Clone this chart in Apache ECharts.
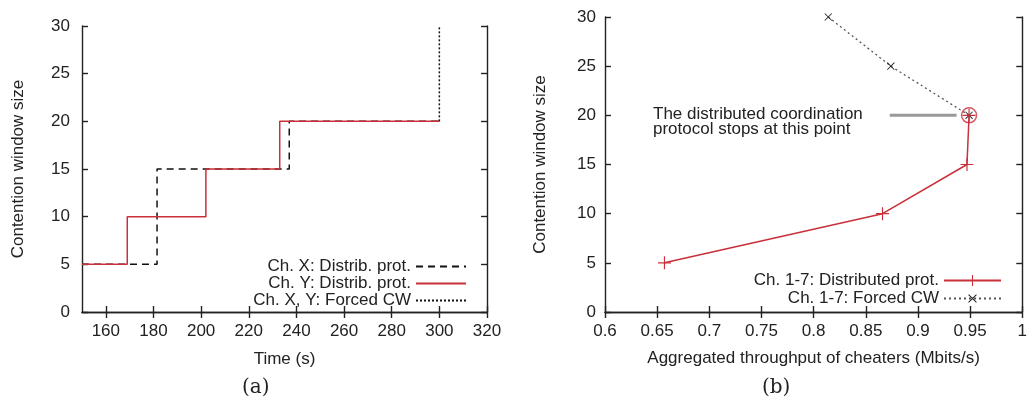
<!DOCTYPE html>
<html>
<head>
<meta charset="utf-8">
<script src="https://cdn.jsdelivr.net/npm/echarts@6/dist/echarts.min.js"></script>
<style>
  html, body { margin: 0; padding: 0; background: #fff; }
  #main { width: 1030px; height: 405px; }
</style>
</head>
<body>
<div id="main"></div>
<script>
// (a) contention window over time
const chXTime = [150, 181.5, 237, 300];
const chXCw = [5, 15, 20, 20];
const chYTime = [150, 169, 202, 233, 300];
const chYCw = [5, 10, 15, 20, 20];
const forcedTime = [300, 300];
const forcedCw = [20, 30];
const timeTicks = [160, 180, 200, 220, 240, 260, 280, 300, 320];

// (b) throughput vs contention window
const distThroughput = [0.657, 0.866, 0.947, 0.949];
const distCw = [5, 10, 15, 20];
const forcedThroughput = [0.949, 0.874, 0.814];
const forcedCwB = [20, 25, 30];
const stopPoint = [0.949, 20];
const pointerX = [0.873, 0.937];

const FONT = "'Liberation Sans', Arial, sans-serif";
const RED = '#c9303a';
const pair = (xs, ys) => xs.map((x, i) => [x, ys[i]]);

const plusPath = 'path://M-1,-0.09H1V0.09H-1Z M-0.09,-1H0.09V1H-0.09Z';

const labelStyle = {color: '#222', fontSize: 17, fontFamily: FONT};
const tickIn = {inside: true, length: 6, lineStyle: {color: '#222', width: 1.4}};
const axLine = {show: true, lineStyle: {color: '#222', width: 1.4}};

function xAxes(gridIndex, min, max, ticks, interval, name, nameGap) {
  const base = {
    type: 'value', gridIndex, min, max, splitLine: {show: false},
    axisLine: axLine
  };
  if (interval) base.interval = interval;
  const bottom = Object.assign({}, base, {
    position: 'bottom',
    axisTick: Object.assign({}, tickIn, ticks ? {customValues: ticks} : {}),
    axisLabel: Object.assign({}, labelStyle, {margin: 11}, ticks ? {customValues: ticks} : {}),
    name, nameLocation: 'middle', nameGap,
    nameTextStyle: {color: '#222', fontSize: 17, fontFamily: FONT}
  });
  const top = Object.assign({}, base, {
    position: 'top',
    axisTick: Object.assign({}, tickIn, ticks ? {customValues: ticks} : {}),
    axisLabel: {show: false}
  });
  return [bottom, top];
}

function yAxes(gridIndex, nameGap, margin) {
  const base = {
    type: 'value', gridIndex, min: 0, max: 30, interval: 5,
    splitLine: {show: false}, axisLine: axLine, axisTick: tickIn
  };
  return [
    Object.assign({}, base, {
      position: 'left',
      axisLabel: Object.assign({}, labelStyle, {margin}),
      name: 'Contention window size', nameLocation: 'middle', nameGap,
      nameTextStyle: {color: '#222', fontSize: 17, fontFamily: FONT}
    }),
    Object.assign({}, base, {position: 'right', axisLabel: {show: false}})
  ];
}

const xa = xAxes(0, 150, 320, timeTicks, null, 'Time (s)', 39);
const xb = xAxes(1, 0.6, 1, null, 0.05, 'Aggregated throughput of cheaters (Mbits/s)', 38);
const ya = yAxes(0, 55, 12);
const yb = yAxes(1, 56, 9);

const legendText = {color: '#222', fontSize: 17, fontFamily: FONT};
function legendRow(name, right, top, width, hideSymbol) {
  const row = {
    data: [name], orient: 'horizontal', align: 'right', right, top,
    itemWidth: width, itemHeight: 14, selectedMode: false, padding: 0,
    textStyle: legendText
  };
  if (hideSymbol) row.itemStyle = {opacity: 0};
  return row;
}

const chart = echarts.init(document.getElementById('main'), null, {renderer: 'canvas'});
chart.setOption({
  animation: false,
  backgroundColor: '#fff',
  grid: [
    {left: 82, top: 26, width: 405, height: 286},
    {left: 605, top: 17, width: 420, height: 295}
  ],
  xAxis: [xa[0], xa[1], xb[0], xb[1]],
  yAxis: [ya[0], ya[1], yb[0], yb[1]],
  legend: [
    legendRow('Ch. X: Distrib. prot.', 563, 258, 50, true),
    legendRow('Ch. Y: Distrib. prot.', 563, 275, 50, true),
    legendRow('Ch. X, Y: Forced CW', 563, 292, 50, true),
    legendRow('Ch. 1-7: Distributed prot.', 28, 272, 57, false),
    legendRow('Ch. 1-7: Forced CW', 28, 290, 57, false)
  ],
  graphic: [
    {type: 'text', left: 653, top: 106, style: {
      text: 'The distributed coordination\nprotocol stops at this point',
      fill: '#222', font: '17px ' + FONT, lineHeight: 15
    }},
    {type: 'text', left: 242, top: 378, style: {text: '(a)', fill: '#222', font: '20px "DejaVu Serif", serif'}},
    {type: 'text', left: 762, top: 378, style: {text: '(b)', fill: '#222', font: '20px "DejaVu Serif", serif'}}
  ],
  series: [
    {
      name: 'Ch. X: Distrib. prot.', type: 'line', step: 'end',
      xAxisIndex: 0, yAxisIndex: 0, symbol: 'none',
      data: pair(chXTime, chXCw),
      lineStyle: {color: '#111', width: 1.5, type: [7, 5]},
      itemStyle: {color: '#111'}
    },
    {
      name: 'Ch. Y: Distrib. prot.', type: 'line', step: 'end',
      xAxisIndex: 0, yAxisIndex: 0, symbol: 'none',
      data: pair(chYTime, chYCw),
      lineStyle: {color: RED, width: 1.5},
      itemStyle: {color: RED}
    },
    {
      name: 'Ch. X, Y: Forced CW', type: 'line',
      xAxisIndex: 0, yAxisIndex: 0, symbol: 'none',
      data: pair(forcedTime, forcedCw),
      lineStyle: {color: '#111', width: 1.5, type: [2, 2]},
      itemStyle: {color: '#111'}
    },
    {
      name: 'pointer', type: 'line',
      xAxisIndex: 2, yAxisIndex: 2, symbol: 'none', silent: true,
      data: pointerX.map(x => [x, stopPoint[1]]),
      lineStyle: {color: '#999', width: 3}
    },
    {
      name: 'Ch. 1-7: Forced CW', type: 'line',
      xAxisIndex: 2, yAxisIndex: 2, clip: false,
      symbol: plusPath, symbolSize: 10, symbolRotate: 45,
      data: pair(forcedThroughput, forcedCwB),
      lineStyle: {color: '#555', width: 1.3, type: [2, 3]},
      itemStyle: {color: '#222'}
    },
    {
      name: 'Ch. 1-7: Distributed prot.', type: 'line',
      xAxisIndex: 2, yAxisIndex: 2,
      symbol: plusPath, symbolSize: 13,
      data: pair(distThroughput, distCw),
      lineStyle: {color: RED, width: 1.5},
      itemStyle: {color: RED}
    },
    {
      name: 'stop', type: 'scatter',
      xAxisIndex: 2, yAxisIndex: 2, silent: true,
      symbol: 'circle', symbolSize: 15,
      data: [stopPoint],
      itemStyle: {color: 'rgba(0,0,0,0)', borderColor: RED, borderWidth: 1.5}
    }
  ]
});
</script>
</body>
</html>
